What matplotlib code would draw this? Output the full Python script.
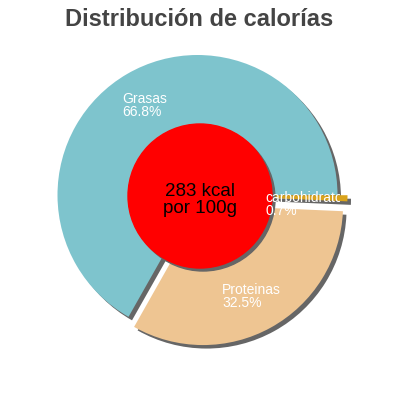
import matplotlib
matplotlib.use("Agg")
import matplotlib.pyplot as plt
from matplotlib.patches import Circle
from matplotlib.transforms import Bbox, TransformedBbox

# datos del grafico
categorias = ["Grasas", "Proteinas", "carbohidratos"]
porcentajes = [66.8, 32.5, 0.7]
colores = ["#7ec4cd", "#eec592", "#d9a31c"]
separacion = [0.0, 11.5, 10.0]  # en pixeles (pie no lo escala con el radio)
etiquetas_pct = ["66.8%", "32.5%", "0.7%"]
texto_centro = "283 kcal\npor 100g"
titulo = "Distribución de calorías"

plt.rcParams['font.family'] = ['Liberation Sans', 'DejaVu Sans']

fig = plt.figure(figsize=(4, 4), dpi=100)
ax = fig.add_axes([0, 0, 1, 1])

# coordenadas en pixeles (y hacia arriba)
cx, cy, radio = 197.5, 205, 140
sombra = 3.5

# sombra de la torta
ax.pie(porcentajes, colors=["#666666"] * 3, explode=separacion, radius=radio,
       center=(cx + sombra, cy - sombra), startangle=0, counterclock=True,
       wedgeprops=dict(linewidth=0), frame=True)
# torta
wedges, _ = ax.pie(porcentajes, colors=colores, explode=separacion, radius=radio,
                   center=(cx, cy), startangle=0, counterclock=True,
                   wedgeprops=dict(linewidth=0), frame=True)

# circulo central con sombra
ax.add_patch(Circle((200 + 3, 204 - 3), 72, color="#666666", zorder=3))
ax.add_patch(Circle((200, 204), 72, color="#ff0000", zorder=4))
ax.text(200, 400 - 200, texto_centro, ha="center", va="center", fontsize=13.5,
        color="black", zorder=5, linespacing=1.0)

ax.set_xlim(0, 400)
ax.set_ylim(0, 400)
ax.set_aspect("equal")
ax.axis("off")

# etiquetas de cada porcion (esquina superior izquierda en px)
pos_etiquetas = [(122, 92), (222, 283), (265, 191)]
caja = TransformedBbox(Bbox([[0, 0], [340, 400]]), ax.transData)
for nombre, pct, (x, y) in zip(categorias, etiquetas_pct, pos_etiquetas):
    t = ax.text(x, 400 - y, nombre + "\n" + pct, ha="left", va="top",
                fontsize=10, color="white", zorder=6, linespacing=0.9)
    t.set_clip_path(None)
    t.set_clip_box(caja)
    t.set_clip_on(True)

fig.text(0.4975, 1 - 19 / 400, titulo, ha="center", va="center",
         fontsize=17, fontweight="bold", color="#444444")

fig.savefig("out.png", dpi=100)
